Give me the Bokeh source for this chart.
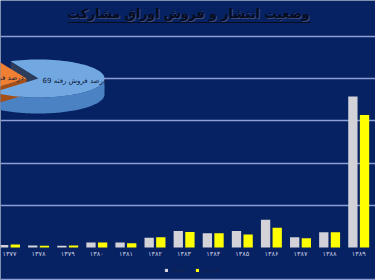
import numpy as np
from bokeh.plotting import figure
from bokeh.models import Range1d, FixedTicker, Legend, LegendItem, Span
from bokeh.core.properties import value
from bokeh.embed import file_html
from bokeh.resources import INLINE

# ---------------- data ----------------
years = ["۱۳۷۷", "۱۳۷۸", "۱۳۷۹", "۱۳۸۰", "۱۳۸۱", "۱۳۸۲", "۱۳۸۳",
         "۱۳۸۴", "۱۳۸۵", "۱۳۸۶", "۱۳۸۷", "۱۳۸۸", "۱۳۸۹"]
issued = [0.06, 0.05, 0.04, 0.12, 0.12, 0.23, 0.39, 0.34, 0.39, 0.66, 0.24, 0.36, 3.58]
sold = [0.07, 0.04, 0.05, 0.12, 0.10, 0.24, 0.37, 0.34, 0.31, 0.47, 0.22, 0.36, 3.14]
series_names = ["انتشار", "فروش"]
pie_values = [69, 31]
pie_labels = ["69 درصد فروش رفته", "31 درصد فروش نرفته"]
title_text = "وضعیت انتشار و فروش اوراق مشارکت"
grid_levels = [1, 2, 3, 4, 5]

# ---------------- style ----------------
BG = "#062263"
GRID = "#8c9fd4"
GRAY = "#d2d2d8"
YELLOW = "#ffff00"
FONT = "DejaVu Sans"

W, H = 375, 280
p = figure(width=W, height=H, output_backend="svg", toolbar_location=None,
           x_range=Range1d(-0.309, 12.577), y_range=Range1d(-0.782, 5.853),
           x_axis_location=None, y_axis_location=None, min_border=0,
           background_fill_color=BG, border_fill_color=BG, outline_line_color=None)
p.xgrid.visible = False
p.ygrid.ticker = FixedTicker(ticks=grid_levels)
p.ygrid.grid_line_color = GRID
p.ygrid.grid_line_width = 1.3

# pixel coordinate ranges for decorations (origin top-left)
p.extra_x_ranges = {"px": Range1d(0, W)}
p.extra_y_ranges = {"py": Range1d(H, 0)}

p.add_layout(Span(location=279, dimension="width", line_color=GRID, line_width=1.3,
                  y_range_name="py"))

# ---------------- bars ----------------
idx = np.arange(len(years))
r1 = p.vbar(x=idx - 0.2, top=issued, width=0.32, fill_color=GRAY, line_color=None)
r2 = p.vbar(x=idx + 0.2, top=sold, width=0.32, fill_color=YELLOW, line_color=None)

p.text(x=idx, y=[0] * len(years), text=years, y_offset=7, text_align="center",
       text_baseline="middle", text_font=value(FONT), text_font_size="6.5px",
       text_color="#c9cde0")

legend = Legend(items=[LegendItem(label=series_names[0], renderers=[r1]),
                       LegendItem(label=series_names[1], renderers=[r2])],
                location=(164, 7), orientation="horizontal",
                background_fill_alpha=0, border_line_color=None,
                padding=0, margin=0, spacing=4, label_standoff=3,
                glyph_width=4, glyph_height=4, label_height=5,
                label_text_font=FONT, label_text_font_size="6px",
                label_text_color="#17244f")
p.add_layout(legend)

# ---------------- 3D pie (pixel coords) ----------------
CX, CY, RX, RY, DEPTH = 38.0, 78.0, 66.0, 19.0, 16.0
EXPLODE = (-12.0, 0.0)


def rim(cx, cy, a0, a1, n=80):
    t = np.radians(np.linspace(a0, a1, n))
    return cx + RX * np.cos(t), cy - RY * np.sin(t)


def pt(cx, cy, a):
    t = np.radians(a)
    return cx + RX * np.cos(t), cy - RY * np.sin(t)


start = 115.0
spans = [v / sum(pie_values) * 360.0 for v in pie_values]
b0, b1 = start - spans[0], start          # blue occupies [b0, b1]
o0, o1 = start, start + spans[1]          # orange occupies [o0, o1]

pk = dict(x_range_name="px", y_range_name="py")

# blue side wall (front part)
sa, sb = max(b0, -180.0), min(b1, 0.0)
xs, ys = rim(CX, CY, sa, sb)
p.patch(np.r_[xs, xs[::-1]], np.r_[ys, ys[::-1] + DEPTH], fill_color="#4a82c4",
        line_color=None, **pk)
# blue cut face at upper edge
ux, uy = pt(CX, CY, b1)
p.patch([CX, ux, ux, CX], [CY, uy, uy + DEPTH, CY + DEPTH], fill_color="#2c3c5a",
        line_color=None, **pk)

# orange slice
ocx, ocy = CX + EXPLODE[0], CY + EXPLODE[1]
xs, ys = rim(ocx, ocy, max(o0, 180.0), o1)
p.patch(np.r_[xs, xs[::-1]], np.r_[ys, ys[::-1] + DEPTH], fill_color="#b95d1e",
        line_color=None, **pk)
lx, ly = pt(ocx, ocy, o1)
p.patch([ocx, lx, lx, ocx], [ocy, ly, ly + DEPTH, ocy + DEPTH], fill_color="#a34f17",
        line_color=None, **pk)
xs, ys = rim(ocx, ocy, o0, o1)
p.patch(np.r_[ocx, xs], np.r_[ocy, ys], fill_color="#ee7f33", line_color=None, **pk)

# blue top face
xs, ys = rim(CX, CY, b0, b1)
p.patch(np.r_[CX, xs], np.r_[CY, ys], fill_color="#72a8e2", line_color=None, **pk)

# pie labels
mids = [(b0 + b1) / 2, (o0 + o1) / 2]
centers = [(CX, CY), (ocx, ocy)]
lxs, lys = [], []
for m, (cx, cy) in zip(mids, centers):
    t = np.radians(m)
    lxs.append(cx + 0.55 * RX * np.cos(t))
    lys.append(cy - 0.55 * RY * np.sin(t) + 1)
p.text(x=lxs, y=lys, text=pie_labels, text_align="center", text_baseline="middle",
       text_font=value(FONT), text_font_size="7px", text_color="#0c1838", **pk)

# ---------------- title ----------------
TS = "12.5px"
p.text(x=[189], y=[14], text=[title_text], text_align="center", text_baseline="middle",
       text_font=value(FONT), text_font_size=TS, text_font_style="bold",
       text_color="#3b4a78", **pk)
p.text(x=[188], y=[13], text=[title_text], text_align="center", text_baseline="middle",
       text_font=value(FONT), text_font_size=TS, text_font_style="bold",
       text_color="#070b1e", **pk)
p.segment(x0=[67], y0=[22], x1=[310], y1=[22], line_color="#070b1e", line_width=1.2, **pk)

open("out.html", "w").write(file_html(p, INLINE))
